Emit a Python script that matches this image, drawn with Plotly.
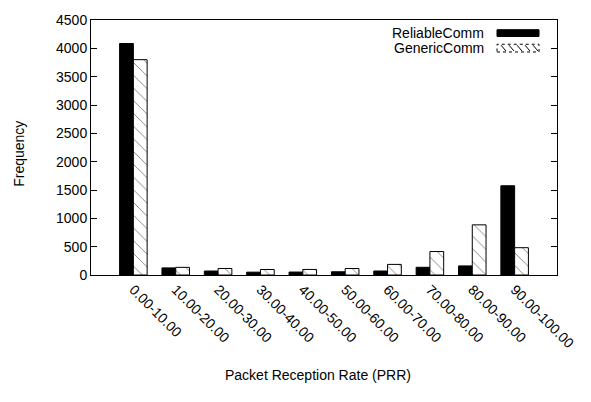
import plotly.graph_objects as go

categories = ["0.00-10.00", "10.00-20.00", "20.00-30.00", "30.00-40.00", "40.00-50.00",
              "50.00-60.00", "60.00-70.00", "70.00-80.00", "80.00-90.00", "90.00-100.00"]
reliable = [4085, 125, 70, 50, 52, 57, 70, 136, 160, 1575]
generic = [3800, 135, 115, 97, 98, 114, 187, 414, 885, 482]
y_ticks = [0, 500, 1000, 1500, 2000, 2500, 3000, 3500, 4000, 4500]

W, H = 591, 402
L, R, T, B = 91, 557, 12, 275
FONT = "Liberation Sans, Arial, Helvetica, sans-serif"

def px(x):
    return (x - L) / (R - L)

def py(y):
    return 1 - (y - T) / (B - T)

idx = list(range(len(categories)))

fig = go.Figure()
fig.add_trace(go.Bar(
    x=idx, y=reliable, name="ReliableComm",
    marker=dict(color="black", line=dict(color="black", width=1)),
    showlegend=False,
))
fig.add_trace(go.Bar(
    x=idx, y=generic, name="GenericComm",
    marker=dict(color="white", line=dict(color="black", width=1),
                pattern=dict(shape="\\", fgcolor="black", bgcolor="white",
                             size=9, solidity=0.1)),
    showlegend=False,
))

shapes = []
# legend swatches
shapes.append(dict(type="rect", xref="paper", yref="paper",
                   x0=px(497), x1=px(539), y0=py(29), y1=py(22),
                   fillcolor="black", line=dict(color="black", width=1)))
shapes.append(dict(type="rect", xref="paper", yref="paper",
                   x0=px(497), x1=px(539), y0=py(45), y1=py(37),
                   fillcolor="white", line=dict(color="black", width=1, dash="dot")))
for sx in range(501, 535, 8):
    shapes.append(dict(type="line", xref="paper", yref="paper",
                       x0=px(sx), x1=px(sx + 5), y0=py(38), y1=py(44),
                       line=dict(color="black", width=1)))

annotations = [
    dict(text="ReliableComm", x=px(486), y=py(25), xref="paper", yref="paper",
         xanchor="right", yanchor="middle", showarrow=False,
         font=dict(family=FONT, size=14, color="black")),
    dict(text="GenericComm", x=px(486), y=py(41), xref="paper", yref="paper",
         xanchor="right", yanchor="middle", showarrow=False,
         font=dict(family=FONT, size=14, color="black")),
    dict(text="Packet Reception Rate (PRR)", x=px(318), y=py(378), xref="paper", yref="paper",
         xanchor="center", yanchor="middle", showarrow=False,
         font=dict(family=FONT, size=14, color="black")),
    dict(text="Frequency", x=px(19), y=py(150), xref="paper", yref="paper",
         xanchor="center", yanchor="middle", showarrow=False, textangle=-90,
         font=dict(family=FONT, size=14, color="black")),
]

fig.update_layout(
    width=W, height=H,
    margin=dict(l=L, r=W - R, t=T, b=H - B, pad=0),
    paper_bgcolor="white", plot_bgcolor="white",
    barmode="group", bargap=0.35, bargroupgap=0,
    font=dict(family=FONT, size=14, color="black"),
    shapes=shapes, annotations=annotations,
    showlegend=False,
)
fig.update_xaxes(
    range=[-1, 10], tickmode="array", tickvals=idx, ticktext=categories,
    tickangle=45, showline=True, linecolor="black", linewidth=1, mirror=True,
    ticks="", showgrid=False, zeroline=False,
    tickfont=dict(family=FONT, size=14, color="black"),
)
fig.update_yaxes(
    range=[0, 4500], tickmode="array", tickvals=y_ticks,
    ticks="inside", ticklen=6, tickcolor="black",
    showline=True, linecolor="black", linewidth=1, mirror="ticks",
    showgrid=False, zeroline=False,
    tickfont=dict(family=FONT, size=14, color="black"),
)

fig.write_html("out.html", config={"displayModeBar": False},
               post_script="document.body.style.margin='0';document.body.style.overflow='hidden';")
